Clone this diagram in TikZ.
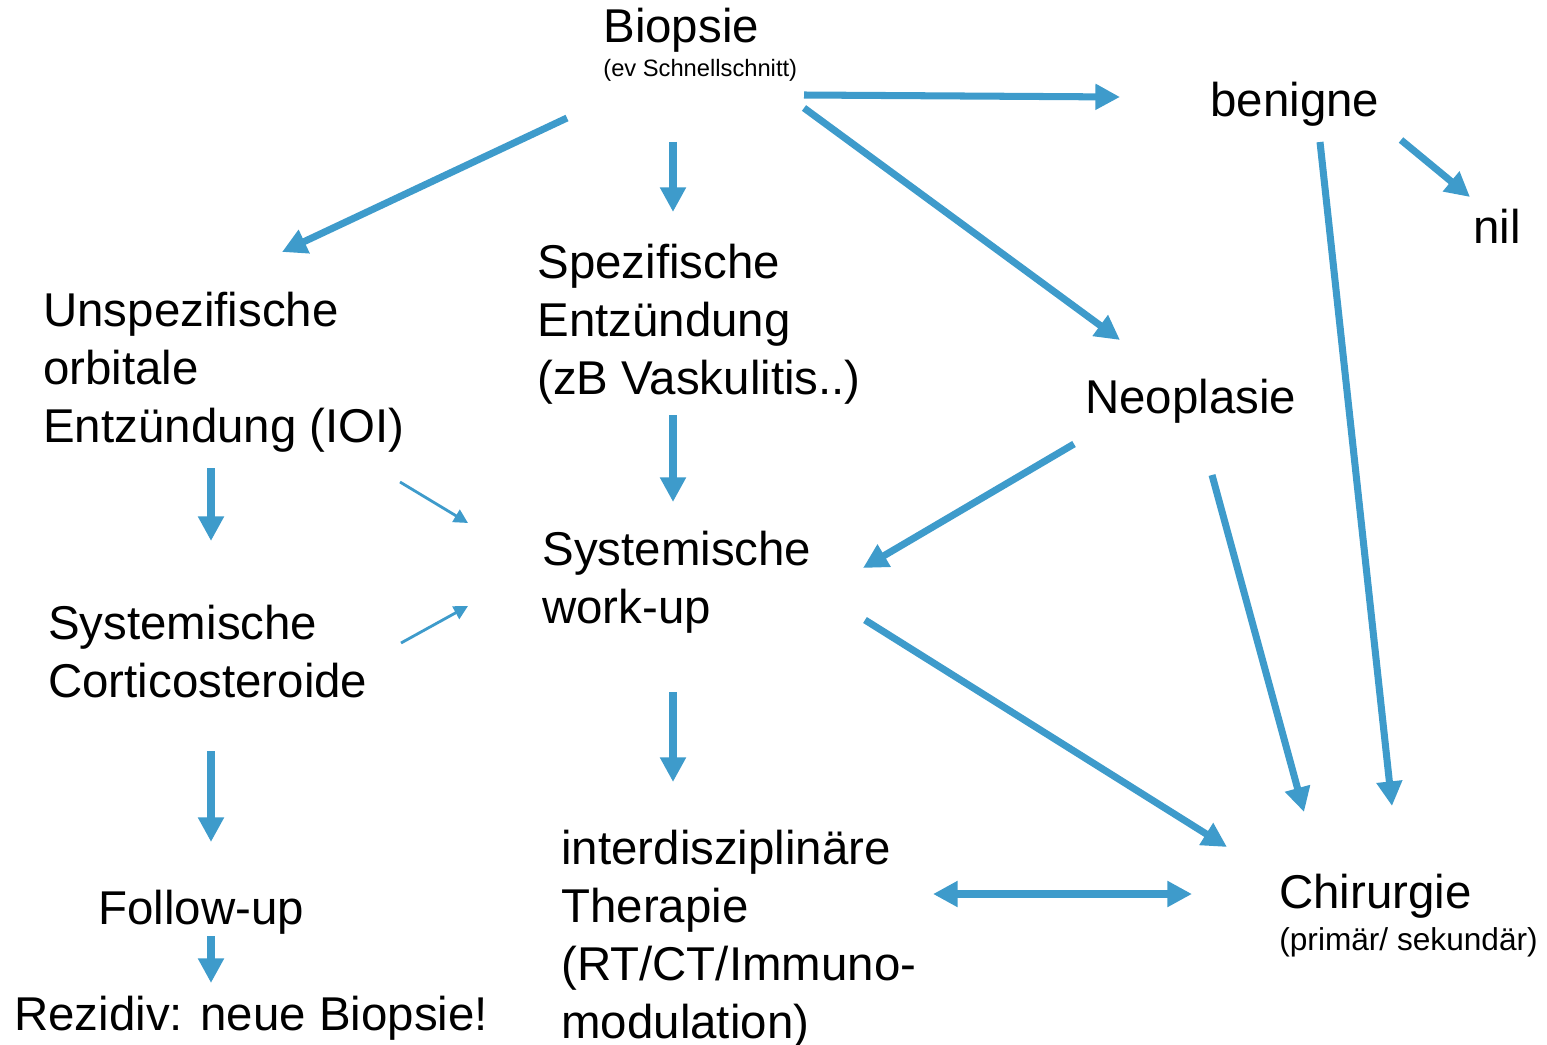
\documentclass[tikz,border=0pt]{standalone}
\usepackage{fontspec}
\setmainfont{Liberation Sans}
\usetikzlibrary{arrows.meta}
\definecolor{flowblue}{RGB}{62,155,203}

\tikzset{
  lbl/.style={anchor=base west, inner sep=0pt, align=left,
    font=\fontsize{27pt}{33pt}\selectfont},
  note/.style={anchor=base west, inner sep=0pt,
    font=\fontsize{13.5pt}{16pt}\selectfont},
  arr/.style={draw=flowblue, line width=4pt,
    -{Triangle[length=14pt,width=14pt]}},
  thinarr/.style={draw=flowblue, line width=1.6pt,
    -{Triangle[length=8pt,width=8pt]}},
  dblarr/.style={draw=flowblue, line width=4pt,
    {Triangle[length=14pt,width=14pt]}-{Triangle[length=14pt,width=14pt]}}
}

\begin{document}
\begin{tikzpicture}[x=0.02cm, y=-0.02cm]
  \useasboundingbox (0,0) rectangle (1547,1044);

  % labels (multi-line ones sit on the baseline of their last line)
  \node[lbl] (biopsie) at (603,43) {Biopsie};
  \node[note] (schnitt) at (603,77) {(ev Schnellschnitt)};
  \node[lbl] (benigne) at (1210,117) {benigne};
  \node[lbl] (nil) at (1473,243) {nil};
  \node[lbl] (unspez) at (43,442) {Unspezifische\\orbitale\\Entzündung (IOI)};
  \node[lbl] (spez) at (537,394) {Spezifische\\Entzündung\\(zB Vaskulitis..)};
  \node[lbl] (neo) at (1085,413) {Neoplasie};
  \node[lbl] (workup) at (542,623) {Systemische\\work-up};
  \node[lbl] (cortico) at (48,697) {Systemische\\Corticosteroide};
  \node[lbl] (follow) at (98,924) {Follow-up};
  \node[lbl] (rezidiv) at (14,1030) {Rezidiv: neue Biopsie!};
  \node[lbl] (interdis) at (561,1038) {interdisziplinäre\\Therapie\\(RT/CT/Immuno-\\modulation)};
  \node[lbl] (chir) at (1279,908) {Chirurgie};
  \node[note, font=\fontsize{18pt}{21pt}\selectfont] (primsek) at (1279,950) {(primär/ sekundär)};

  % arrow ends
  \coordinate (bioL) at (567,118);
  \coordinate (bioM) at (673,142);
  \coordinate (bioR) at (804,95);
  \coordinate (bioD) at (804,108);
  \coordinate (unspezT) at (282,252);
  \coordinate (spezT) at (673,212);
  \coordinate (benigneL) at (1120,97);
  \coordinate (neoT) at (1120,340);
  \coordinate (benigneR) at (1401,140);
  \coordinate (nilT) at (1470,197);
  \coordinate (benigneB) at (1320,142);
  \coordinate (chirT) at (1392,806);
  \coordinate (spezB) at (673,415);
  \coordinate (workupT) at (673,502);
  \coordinate (unspezB) at (211,468);
  \coordinate (corticoT) at (211,541);
  \coordinate (unspezR) at (400,482);
  \coordinate (workupL) at (468,523);
  \coordinate (corticoR) at (401,643);
  \coordinate (workupLL) at (468,606);
  \coordinate (neoL) at (1074,444);
  \coordinate (workupR) at (863,568);
  \coordinate (neoB) at (1212,475);
  \coordinate (chirTL) at (1304,812);
  \coordinate (workupRR) at (865,620);
  \coordinate (chirL) at (1227,847);
  \coordinate (workupB) at (673,692);
  \coordinate (interdisT) at (673,782);
  \coordinate (corticoB) at (211,751);
  \coordinate (followT) at (211,842);
  \coordinate (followB) at (211,936);
  \coordinate (rezidivT) at (211,983);
  \coordinate (interdisR) at (933,894);
  \coordinate (chirLL) at (1192,894);

  % connectors
  \draw[arr] (bioL) -- (unspezT);
  \draw[arr] (bioM) -- (spezT);
  \draw[arr] (bioR) -- (benigneL);
  \draw[arr] (bioD) -- (neoT);
  \draw[arr] (benigneR) -- (nilT);
  \draw[arr] (benigneB) -- (chirT);
  \draw[arr] (spezB) -- (workupT);
  \draw[arr] (unspezB) -- (corticoT);
  \draw[thinarr] (unspezR) -- (workupL);
  \draw[thinarr] (corticoR) -- (workupLL);
  \draw[arr] (neoL) -- (workupR);
  \draw[arr] (neoB) -- (chirTL);
  \draw[arr] (workupRR) -- (chirL);
  \draw[arr] (workupB) -- (interdisT);
  \draw[arr] (corticoB) -- (followT);
  \draw[arr] (followB) -- (rezidivT);
  \draw[dblarr] (interdisR) -- (chirLL);
\end{tikzpicture}
\end{document}
